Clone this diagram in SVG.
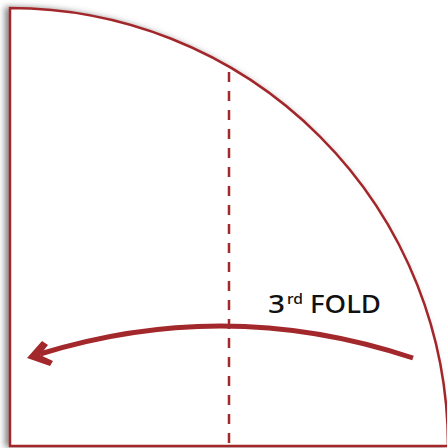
<svg xmlns="http://www.w3.org/2000/svg" width="447" height="448" viewBox="0 0 447 448">
<style>
.edge{fill:#fff;stroke:#a3282c;stroke-width:2.5}
.fold{fill:none;stroke:#a3282c;stroke-width:2.5;stroke-dasharray:10 9}
.arrow{fill:none;stroke:#a3282c;stroke-width:5;stroke-linecap:butt}
.head{fill:#a3282c}
.lbl{font-family:"Noto Sans","DejaVu Sans",sans-serif;font-weight:500;fill:#111}
</style>
<defs>
<filter id="sh" x="-10%" y="-10%" width="120%" height="120%">
<feDropShadow dx="-4" dy="0" stdDeviation="3" flood-color="#555" flood-opacity="0.7"/>
</filter>
</defs>
<g id="sheet">
<path class="edge" filter="url(#sh)" d="M10,8 A438,438 0 0 1 448,446 L10,446 Z"/>
</g>
<g id="connectors">
<line class="fold" x1="229" y1="72" x2="229" y2="446"/>
<path class="arrow" d="M413,358 Q227,296 40,354"/>
<polygon class="head" points="27,358 42,341 48,345 40,355 53,361 50,366"/>
</g>
<g id="label">
<text class="lbl" x="268" y="313" font-size="25" textLength="17" lengthAdjust="spacingAndGlyphs">3</text>
<text class="lbl" x="287" y="304" font-size="14" textLength="16" lengthAdjust="spacingAndGlyphs">rd</text>
<text class="lbl" x="310" y="313" font-size="25" textLength="71" lengthAdjust="spacingAndGlyphs">FOLD</text>
</g>
</svg>
